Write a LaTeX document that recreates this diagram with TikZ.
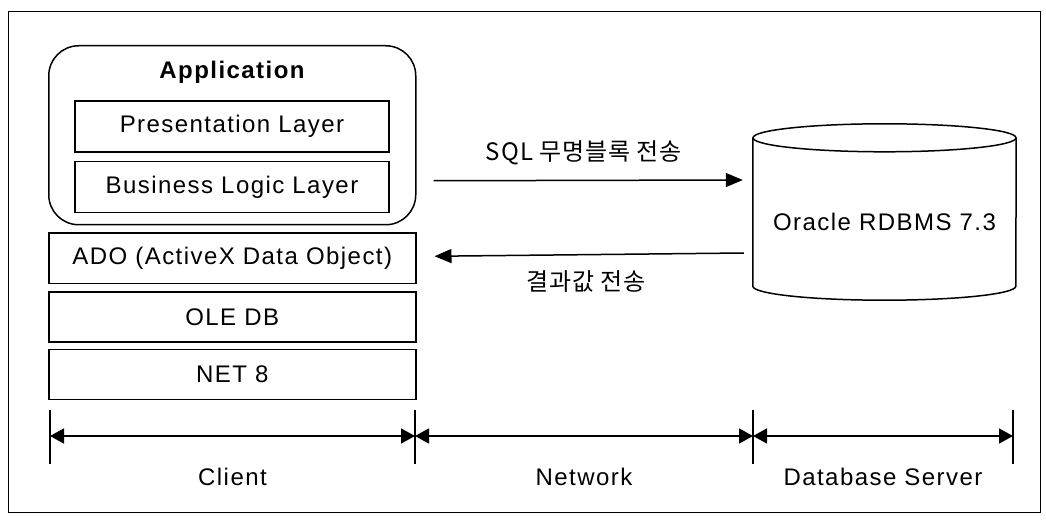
\documentclass[tikz,border=0pt]{standalone}
\usepackage{fontspec}
\setmainfont{Liberation Sans}[LetterSpace=6.0]
\newfontfamily\kr{Noto Sans CJK KR}[LetterSpace=4.0]
\usetikzlibrary{arrows.meta,positioning,calc}

\begin{document}
\begin{tikzpicture}[x=1pt, y=-1pt,
    layer/.style={rectangle, draw, line width=1.5pt, minimum width=367pt, minimum height=50pt, inner sep=0pt, font=\fontsize{24}{28}\selectfont},
    inlayer/.style={layer, minimum width=314pt, minimum height=51pt},
    lbl/.style={font=\fontsize{24}{28}\selectfont},
    arrow/.style={-{Triangle[length=17pt,width=14pt]}, line width=1.5pt},
    span/.style={{Triangle[length=14pt,width=15pt]}-{Triangle[length=14pt,width=15pt]}, line width=1.5pt},
    tick/.style={line width=1.2pt}
]
\useasboundingbox (0,0) rectangle (1046,521);
\draw[line width=1pt] (8,12) rectangle (1040,512);

% client stack
\node[draw, line width=1.5pt, rounded corners=30pt, minimum width=367pt, minimum height=179pt, anchor=north west] (app) at (48,45) {};
\node[lbl, font=\fontsize{24}{28}\selectfont\bfseries] (apptitle) at (232,72) {Application};
\node[inlayer] (pres) at (232,126.5) {Presentation Layer};
\node[inlayer, below=8pt of pres] (biz) {Business Logic Layer};
\node[layer, below=7pt of app] (ado) {ADO (ActiveX Data Object)};
\node[layer, below=7pt of ado] (oledb) {OLE DB};
\node[layer, below=6pt of oledb] (net) {NET 8};

% database
\node[minimum width=263pt, minimum height=176pt, inner sep=0pt] (db) at (884.5,212) {};
\draw[line width=1.5pt] ([yshift=-14pt]db.north west) -- ([yshift=14pt]db.south west)
    arc[start angle=180, end angle=360, x radius=131.5pt, y radius=14pt] -- ([yshift=-14pt]db.north east);
\draw[line width=1.5pt] ([yshift=-14pt]db.north) ellipse [x radius=131.5pt, y radius=14pt];
\node[lbl] (dbname) at ([yshift=-10pt]db.center) {Oracle RDBMS 7.3};

% messages
\draw[arrow] ([xshift=17pt, yshift=-45.5pt]app.east) -- ([xshift=-10pt, yshift=32pt]db.west);
\draw[arrow] ([xshift=-9pt, yshift=-41pt]db.west) -- ([xshift=18pt, yshift=2pt]ado.east);
\node[lbl, font=\fontsize{24}{28}\kr] (sqllbl) at (584,153) {SQL 무명블록 전송};
\node[lbl, font=\fontsize{24}{28}\kr] (retlbl) at (586,282) {결과값 전송};

% tiers
\coordinate (cl) at (50,436);
\coordinate (nw) at (415,436);
\coordinate (sv) at (753,436);
\coordinate (ed) at (1013,436);
\foreach \c in {cl,nw,sv,ed}
    \draw[tick] ([yshift=26pt]\c) -- ([yshift=-28pt]\c);
\draw[span] (cl) -- (nw);
\draw[span] (nw) -- (sv);
\draw[span] (sv) -- (ed);
\node[lbl] (client) at ($(cl)!.5!(nw)+(0,41)$) {Client};
\node[lbl] (network) at ($(nw)!.5!(sv)+(0,41)$) {Network};
\node[lbl] (server) at ($(sv)!.5!(ed)+(0,41)$) {Database Server};

\end{tikzpicture}
\end{document}
